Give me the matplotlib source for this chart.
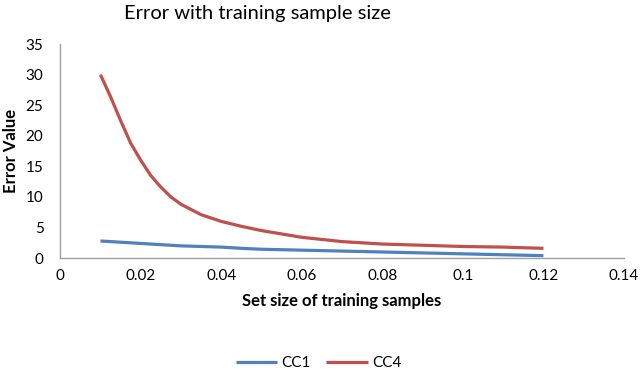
import matplotlib
matplotlib.use("Agg")
import matplotlib.pyplot as plt
from matplotlib.ticker import FuncFormatter

plt.rcParams['font.family'] = ['Lato', 'DejaVu Sans']

# data (denser where the curve bends)
sample_size = [0.01, 0.0125, 0.015, 0.0175, 0.02, 0.0225, 0.025, 0.0275, 0.03,
               0.035, 0.04, 0.045, 0.05, 0.06, 0.07, 0.08, 0.09, 0.10, 0.11, 0.12]
cc1 = [2.8, 2.7, 2.6, 2.5, 2.4, 2.3, 2.2, 2.1, 2.0,
       1.9, 1.8, 1.6, 1.45, 1.3, 1.15, 1.0, 0.85, 0.7, 0.55, 0.4]
cc4 = [30.0, 26.4, 22.5, 18.8, 16.0, 13.5, 11.6, 10.0, 8.8,
       7.1, 6.0, 5.2, 4.5, 3.4, 2.7, 2.3, 2.1, 1.9, 1.8, 1.6]

fig = plt.figure(figsize=(6.4, 3.73), dpi=100)
ax = fig.add_axes([0.094, 0.308, 0.881, 0.574])

ax.plot(sample_size, cc1, color='#4F81BD', lw=2.3, label='CC1',
        solid_capstyle='butt', solid_joinstyle='round')
ax.plot(sample_size, cc4, color='#C0504D', lw=2.3, label='CC4',
        solid_capstyle='butt', solid_joinstyle='round')

ax.set_xlim(0, 0.14)
ax.set_ylim(0, 35)
ax.set_xticks([0, 0.02, 0.04, 0.06, 0.08, 0.1, 0.12, 0.14])
ax.set_yticks(range(0, 36, 5))
ax.xaxis.set_major_formatter(FuncFormatter(lambda v, p: '%g' % round(v, 2)))
ax.tick_params(length=0, labelsize=11, pad=8)
ax.tick_params(axis='y', pad=12)

for s in ['top', 'right']:
    ax.spines[s].set_visible(False)
for s in ['left', 'bottom']:
    ax.spines[s].set_color('#A0A0A0')
    ax.spines[s].set_linewidth(1)

fig.text(257 / 640, 1 - 13 / 373, 'Error with training sample size',
         fontsize=14.5, ha='center', va='center')
ax.set_xlabel('Set size of training samples', fontsize=12, fontweight='bold', labelpad=7)
ax.set_ylabel('Error Value', fontsize=12, fontweight='bold', labelpad=5)

fig.legend(loc='center', bbox_to_anchor=(0.498, 0.027), ncol=2, frameon=False,
           fontsize=11, handlelength=2.7, columnspacing=1.0, handletextpad=0.3)

fig.savefig('out.png', dpi=100)
